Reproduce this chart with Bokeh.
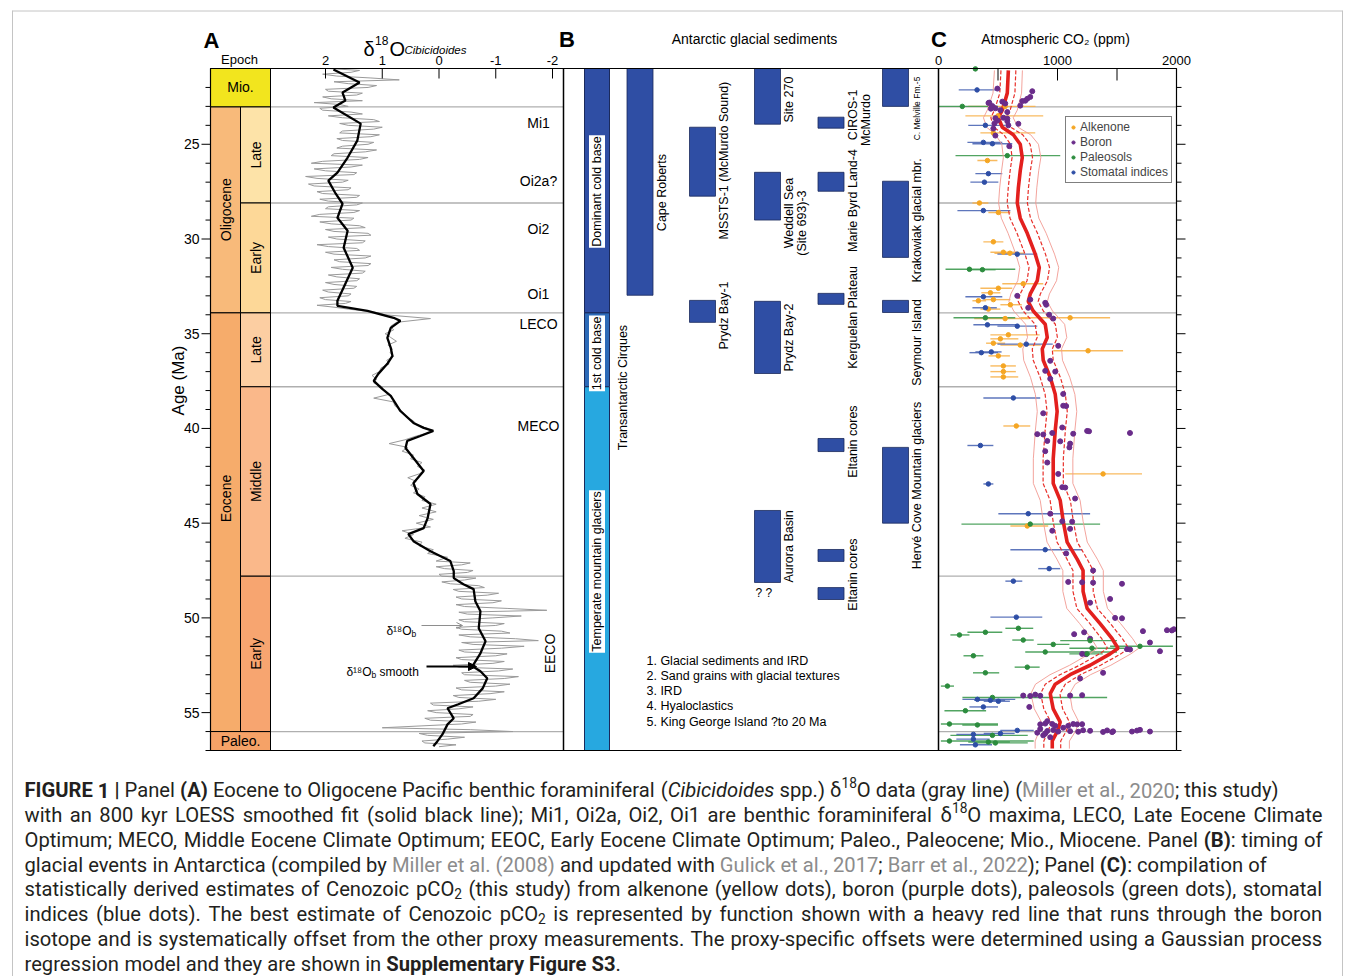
import glob, os, re, struct
import numpy as np
from bokeh.plotting import figure
from bokeh.models import Range1d, Arrow, OpenHead, NormalHead, Legend, LegendItem
from bokeh.core.properties import value
from bokeh.embed import file_html
from bokeh.resources import INLINE

# ====================== DATA ======================
EPOCH_NAME = ["Mio.", "Oligocene", "Eocene", "Paleo."]
EPOCH_TOP = [21.0, 23.03, 33.9, 56.0]
EPOCH_BASE = [23.03, 33.9, 56.0, 57.0]
EPOCH_FULL = [True, False, False, True]
EPOCH_LABEL_AGE = [22.0, 28.45, 43.7, 56.5]
SUB_NAME = ["Late", "Early", "Late", "Middle", "Early"]
SUB_TOP = [23.03, 28.1, 33.9, 37.8, 47.8]
SUB_BASE = [28.1, 33.9, 37.8, 47.8, 56.0]
EPOCH_LINES = [23.03, 28.1, 33.9, 37.8, 47.8, 56.0]

AGE_TICKS = [25, 30, 35, 40, 45, 50, 55]
AGE_TICK_LABELS = ["25", "30", "35", "40", "45", "50", "55"]
AGE_MINOR = [22, 23, 24, 26, 27, 28, 29, 31, 32, 33, 34, 36, 37, 38, 39, 41, 42, 43, 44,
             46, 47, 48, 49, 51, 52, 53, 54, 56, 57]
D18O_TICKS = [2.0, 1.0, 0.0, -1.0, -2.0]
D18O_TICK_LABELS = ["2", "1", "0", "-1", "-2"]
CO2_TICKS = [0, 500, 1000, 1500, 2000]
CO2_TICK_LABELS = ["0", "", "1000", "", "2000"]

gray_age = [
    21.0, 21.2, 21.4, 21.6, 21.8, 22.0, 22.2, 22.4, 22.6, 22.8,
    23.0, 23.2, 23.4, 23.6, 23.8, 24.0, 24.2, 24.4, 24.6, 24.8,
    25.0, 25.2, 25.4, 25.6, 25.8, 26.0, 26.2, 26.4, 26.6, 26.8,
    27.0, 27.2, 27.4, 27.6, 27.8, 28.0, 28.2, 28.4, 28.6, 28.8,
    29.0, 29.2, 29.4, 29.6, 29.8, 30.0, 30.2, 30.4, 30.6, 30.8,
    31.0, 31.2, 31.4, 31.6, 31.8, 32.0, 32.2, 32.4, 32.6, 32.8,
    33.0, 33.2, 33.4, 33.6, 33.8, 34.0, 34.2, 34.4, 34.6, 34.8,
    35.0, 35.2, 35.4, 35.6, 35.8, 36.0, 36.2, 36.4, 36.6, 36.8,
    37.0, 37.2, 37.4, 37.6, 37.8, 38.0, 38.2, 38.4, 38.6, 38.8,
    39.0, 39.2, 39.4, 39.6, 39.8, 40.0, 40.2, 40.4, 40.6, 40.8,
    41.0, 41.2, 41.4, 41.6, 41.8, 42.0, 42.2, 42.4, 42.6, 42.8,
    43.0, 43.2, 43.4, 43.6, 43.8, 44.0, 44.2, 44.4, 44.6, 44.8,
    45.0, 45.2, 45.4, 45.6, 45.8, 46.0, 46.2, 46.4, 46.6, 46.8,
    47.0, 47.2, 47.4, 47.6, 47.8, 48.0, 48.2, 48.4, 48.6, 48.8,
    49.0, 49.2, 49.4, 49.6, 49.8, 50.0, 50.2, 50.4, 50.6, 50.8,
    51.0, 51.2, 51.4, 51.6, 51.8, 52.0, 52.2, 52.4, 52.6, 52.8,
    53.0, 53.2, 53.4, 53.6, 53.8, 54.0, 54.2, 54.4, 54.6, 54.8,
    55.0, 55.2, 55.4, 55.6, 55.8, 56.0, 56.2, 56.4, 56.6, 56.8]
gray_d18o = [
    1.95, 1.55, 1.80, 0.70, 1.60, 1.25, 1.95, 1.45, 1.90, 2.20,
    1.60, 2.05, 1.35, 1.70, 1.05, 1.60, 1.15, 1.75, 1.20, 1.70,
    1.25, 1.80, 1.30, 1.90, 1.40, 2.25, 1.55, 2.00, 1.50, 2.15,
    1.70, 2.20, 1.60, 2.05, 1.45, 1.95, 1.45, 2.00, 1.50, 2.25,
    1.55, 1.90, 1.30, 1.85, 1.20, 1.80, 1.35, 1.95, 1.40, 1.85,
    1.30, 1.75, 1.25, 1.70, 1.35, 1.80, 1.45, 1.85, 1.50, 1.95,
    1.60, 2.00, 1.65, 1.85, 1.30, 0.95, 0.15, 0.75, 0.85, 0.80,
    0.95, 0.85, 0.75, 0.90, 0.82, 0.86, 0.80, 0.92, 0.88, 1.02,
    1.05, 1.18, 1.10, 1.15, 1.00, 0.98, 0.88, 1.15, 0.80, 0.78,
    0.68, 0.62, 0.58, 0.45, 0.40, 0.20, 0.15, 0.40, 0.60, 0.88,
    0.55, 0.65, 0.45, 0.50, 0.30, 0.38, 0.25, 0.35, 0.55, 0.40,
    0.50, 0.35, 0.45, 0.25, 0.30, 0.05, 0.30, 0.05, 0.35, 0.10,
    0.40, 0.15, 0.65, 0.45, 0.60, 0.30, 0.35, 0.10, 0.20, -0.15,
    0.05, -0.40, -0.10, -0.50, -0.05, -0.45, -0.20, -0.80, -0.35, -0.85,
    -0.40, -0.95, -0.45, -1.90, -0.50, -0.95, -0.45, -1.00, -0.40, -1.25,
    -0.55, -1.75, -0.60, -1.10, -0.45, -1.00, -0.40, -0.95, -0.35, -1.05,
    -0.45, -1.15, -0.55, -1.00, -0.40, -0.90, -0.35, -0.70, 0.10, -0.35,
    0.05, -0.55, 0.15, -0.40, 1.00, -1.30, 0.20, -0.15, 0.25, 0.00]
gray_age_extra = [
    21.1, 21.3, 21.5, 21.7, 21.9, 22.1, 22.3, 22.5, 22.7, 22.9,
    23.1, 23.3, 23.5, 23.7, 23.9, 24.1, 24.3, 24.5, 24.7, 24.9,
    25.1, 25.3, 25.5, 25.7, 25.9, 26.1, 26.3, 26.5, 26.7, 26.9,
    27.1, 27.3, 27.5, 27.7, 27.9, 28.1, 28.3, 28.5, 28.7, 28.9,
    29.1, 29.3, 29.5, 29.7, 29.9, 30.1, 30.3, 30.5, 30.7, 30.9,
    31.1, 31.3, 31.5, 31.7, 31.9, 32.1, 32.3, 32.5, 32.7, 32.9,
    33.1, 33.3, 33.5, 33.7, 33.9,
    47.1, 47.3, 47.5, 47.7, 47.9, 48.1, 48.3, 48.5, 48.7, 48.9,
    49.1, 49.3, 49.5, 49.7, 49.9, 50.1, 50.3, 50.5, 50.7, 50.9,
    51.1, 51.3, 51.5, 51.7, 51.9, 52.1, 52.3, 52.5, 52.7, 52.9,
    53.1, 53.3, 53.5, 53.7, 53.9, 54.1, 54.3, 54.5, 54.7, 54.9,
    55.1, 55.3, 55.5, 55.7, 55.9, 56.1, 56.3, 56.5, 56.7]
gray_d18o_extra = [
    1.40, 2.05, 1.20, 1.85, 1.10, 2.00, 1.35, 2.05, 1.35, 1.75,
    2.10, 1.55, 1.95, 1.15, 1.75, 1.00, 1.70, 1.05, 1.80, 1.15,
    1.70, 1.10, 1.85, 1.25, 2.05, 1.35, 2.20, 1.45, 2.35, 1.60,
    2.30, 1.55, 2.15, 1.40, 2.10, 1.35, 1.95, 1.40, 2.10, 1.50,
    2.10, 1.40, 2.00, 1.25, 1.95, 1.30, 2.15, 1.45, 2.00, 1.20,
    1.85, 1.20, 1.90, 1.30, 1.95, 1.40, 2.00, 1.45, 2.05, 1.55,
    2.10, 1.55, 2.15, 1.60, 1.05,
    -0.55, 0.05, -0.60, 0.00, -0.65, -0.05, -0.70, -0.25, -1.05, -0.30,
    -1.10, -0.30, -1.20, -0.35, -1.45, -0.35, -1.15, -0.30, -1.10, -0.35,
    -1.35, -0.40, -1.50, -0.35, -1.20, -0.30, -1.15, -0.25, -1.30, -0.40,
    -1.40, -0.45, -1.25, -0.30, -1.15, -0.25, -1.00, 0.15, -0.60, 0.20,
    -0.60, 0.25, -0.65, 0.30, -0.55, 0.35, -0.45, 0.30, -0.30]

smooth_age = [21.05, 21.74, 22.27, 22.69, 23.06, 23.91, 24.81, 25.70, 26.50, 26.92,
              27.61, 28.14, 28.88, 29.56, 30.46, 31.52, 32.36, 33.26, 33.53, 33.79,
              34.16, 34.32, 34.69, 35.22, 35.75, 36.17, 36.59, 37.12, 37.49, 37.91,
              38.28, 39.08, 39.71, 39.97, 40.13, 40.40, 40.66, 41.03, 41.56, 42.25,
              42.88, 43.46, 43.99, 44.73, 45.26, 45.58, 45.95, 46.48, 47.00, 47.53,
              47.90, 48.22, 48.48, 49.12, 49.65, 50.55, 51.23, 51.87, 52.55, 52.82,
              53.19, 53.72, 54.24, 54.56, 54.77, 55.30, 55.62, 56.15, 56.52, 56.78]
smooth_d18o = [1.86, 1.40, 1.70, 1.65, 1.86, 1.38, 1.44, 1.61, 1.79, 1.95,
               1.82, 1.70, 1.79, 1.61, 1.68, 1.52, 1.65, 1.79, 1.79, 1.26,
               0.80, 0.68, 0.85, 0.91, 0.85, 0.82, 0.91, 1.07, 1.15, 1.00,
               0.85, 0.68, 0.45, 0.27, 0.10, 0.33, 0.56, 0.59, 0.45, 0.27,
               0.45, 0.38, 0.15, 0.20, 0.27, 0.54, 0.45, 0.15, -0.20, -0.26,
               -0.26, -0.43, -0.61, -0.64, -0.73, -0.70, -0.82, -0.73, -0.59, -0.73,
               -0.85, -0.77, -0.61, -0.34, -0.15, -0.26, -0.15, -0.06, 0.03, 0.10]

EVENT_NAME = ["Mi1", "Oi2a?", "Oi2", "Oi1", "LECO", "MECO"]
EVENT_AGE = [23.90, 26.96, 29.45, 32.88, 34.51, 39.85]
EECO_AGE = 51.88

B_COL_NAME = ["Dominant cold base", "1st cold base", "Temperate mountain glaciers"]
B_COL_TOP = [21.0, 33.9, 37.8]
B_COL_BASE = [33.9, 37.8, 57.0]
B_COL_LABEL_AGE = [27.49, 36.04, 47.55]

BAR_SITE = ["Cape Roberts", "MSSTS-1", "Prydz Bay-1", "Site 270", "Weddell Sea", "Prydz Bay-2",
            "Aurora Basin", "CIROS-1", "Marie Byrd Land-4", "Kerguelan Plateau", "Eltanin a",
            "Eltanin b", "Eltanin c", "C. Melville Fm.-5", "Krakowiak", "Seymour Island", "Hervé Cove"]
BAR_TRACK = [1, 2, 2, 3, 3, 3, 3, 4, 4, 4, 4, 4, 4, 5, 5, 5, 5]
BAR_TOP = [21.0, 24.10, 33.24, 21.0, 26.48, 33.29, 44.33, 23.57, 26.48, 32.87, 40.53,
           46.39, 48.40, 21.0, 26.95, 33.24, 41.00]
BAR_BASE = [32.97, 27.74, 34.40, 23.94, 29.00, 37.10, 48.13, 24.15, 27.48, 33.45, 41.22,
            47.02, 49.03, 23.00, 30.97, 33.88, 45.00]

LAB_TEXT = ["Cape Roberts", "MSSTS-1 (McMurdo Sound)", "Prydz Bay-1", "Site 270", "Weddell Sea",
            "(Site 693)-3", "Prydz Bay-2", "Aurora Basin", "CIROS-1", "McMurdo", "Marie Byrd Land-4",
            "Kerguelan Plateau", "Eltanin cores", "Eltanin cores", "Krakowiak glacial mbr.",
            "Seymour Island", "Hervé Cove Mountain glaciers"]
LAB_TRACK = [1, 2, 2, 3, 3, 3, 3, 3, 4, 4, 4, 4, 4, 4, 5, 5, 5]
LAB_LINE = [0, 0, 0, 0, 0, 1, 0, 0, 0, 1, 0, 0, 0, 0, 0, 0, 0]
LAB_AGE = [27.55, 25.86, 34.04, 22.64, 28.63, 29.16, 35.20, 46.23, 23.45, 23.72, 27.97,
           34.14, 40.69, 47.71, 29.02, 35.46, 43.01]
SMALL_LAB_TEXT = ["C. Melville Fm.-5"]
SMALL_LAB_TRACK = [5]
SMALL_LAB_AGE = [23.11]
CIRQUES_TEXT = "Transantarctic Cirques"
CIRQUES_AGE = 37.84
QMARK_AGE = 48.66
B_NOTES = ["1. Glacial sediments and IRD", "2. Sand grains with glacial textures", "3. IRD",
           "4. Hyaloclastics", "5. King George Island ?to 20 Ma"]
B_NOTES_AGE = [52.30, 53.09, 53.88, 54.67, 55.47]

co2_age = [21.1, 22.3, 23.2, 23.6, 24.1, 24.5, 25.0, 25.7, 26.4, 27.3,
           28.1, 28.9, 29.7, 30.8, 31.5, 32.2, 32.9, 33.3, 33.8, 34.5,
           35.2, 35.8, 36.4, 37.3, 38.2, 39.1, 40.1, 41.6, 42.9, 43.8,
           44.9, 46.0, 46.9, 47.5, 48.6, 49.5, 50.3, 51.1, 51.6, 51.9,
           52.5, 53.0, 53.5, 54.0, 54.8, 55.5, 56.0, 56.5, 56.9]
co2_mid = [587, 578, 536, 503, 536, 629, 687, 704, 687, 671,
           662, 687, 746, 813, 847, 830, 771, 754, 796, 897,
           914, 872, 880, 939, 981, 997, 981, 964, 964, 1023,
           1048, 1081, 1165, 1215, 1215, 1249, 1358, 1459, 1509, 1442,
           1274, 1106, 981, 939, 964, 1023, 997, 956, 956]
co2_lo1 = [525, 515, 470, 440, 465, 550, 605, 618, 602, 586,
           577, 601, 660, 727, 761, 744, 686, 670, 711, 812,
           829, 788, 796, 854, 896, 912, 896, 879, 879, 938,
           963, 996, 1080, 1130, 1130, 1163, 1272, 1372, 1420, 1352,
           1186, 1020, 897, 858, 885, 945, 922, 885, 885]
co2_hi1 = [650, 642, 602, 568, 608, 708, 770, 790, 772, 756,
           747, 773, 832, 899, 933, 916, 856, 838, 881, 982,
           999, 956, 964, 1024, 1066, 1082, 1066, 1049, 1049, 1108,
           1133, 1166, 1250, 1300, 1300, 1335, 1444, 1546, 1598, 1532,
           1362, 1192, 1065, 1020, 1043, 1101, 1072, 1027, 1027]
co2_lo2 = [470, 458, 410, 378, 405, 480, 532, 545, 530, 514,
           505, 528, 585, 650, 683, 666, 608, 592, 632, 732,
           748, 708, 716, 773, 814, 830, 814, 797, 797, 855,
           880, 912, 995, 1045, 1045, 1078, 1186, 1286, 1335, 1268,
           1102, 937, 815, 776, 805, 865, 845, 812, 812]
co2_hi2 = [705, 698, 662, 628, 668, 775, 840, 860, 842, 826,
           817, 843, 905, 975, 1010, 992, 932, 915, 958, 1060,
           1078, 1034, 1042, 1103, 1146, 1162, 1146, 1129, 1129, 1190,
           1215, 1250, 1335, 1385, 1385, 1420, 1530, 1632, 1684, 1616,
           1448, 1277, 1148, 1103, 1124, 1180, 1150, 1100, 1100]

alk_age = [23.0, 23.5, 24.4, 25.86, 28.1, 28.6, 30.15, 30.7, 30.75, 32.36,
           32.6, 32.84, 33.2, 33.26, 33.47, 33.7, 34.16, 34.2, 35.06, 35.27,
           35.5, 35.6, 35.9, 36.17, 36.7, 37.0, 37.28, 39.87, 42.4, 45.15]
alk_co2 = [560, 500, 461, 411, 344, 503, 461, 545, 600, 712,
           503, 436, 461, 335, 604, 419, 1106, 560, 587, 520,
           461, 687, 1257, 503, 545, 545, 545, 654, 1383, 746]
alk_lo = [250, 226, 352, 327, 285, 419, 377, 436, 470, 536,
          352, 360, 380, 285, 520, 352, 687, 300, 436, 436,
          400, 520, 964, 420, 436, 436, 436, 545, 1065, 604]
alk_hi = [815, 880, 813, 495, 419, 604, 545, 662, 720, 880,
          620, 520, 604, 400, 700, 520, 1442, 760, 850, 671,
          560, 860, 1551, 600, 650, 650, 670, 771, 1710, 922]

sto_age = [22.13, 24.0, 24.9, 24.97, 26.55, 27.0, 28.5, 30.8, 33.05, 33.63,
           34.53, 34.6, 35.55, 36.0, 35.96, 38.39, 40.9, 42.93, 44.5, 46.4,
           47.4, 48.06, 49.96, 54.3, 54.35, 54.4, 54.7, 55.94, 56.1, 56.15,
           56.4, 56.7]
sto_co2 = [324, 394, 377, 453, 419, 386, 377, 662, 377, 394,
           411, 662, 738, 360, 444, 629, 352, 419, 754, 897,
           930, 629, 654, 327, 436, 503, 377, 662, 520, 293,
           293, 310]
sto_lo = [170, 250, 243, 285, 310, 268, 159, 495, 226, 285,
          293, 495, 495, 260, 310, 377, 243, 377, 503, 604,
          838, 562, 436, 201, 300, 380, 260, 520, 380, 150,
          150, 180]
sto_hi = [492, 560, 536, 620, 536, 503, 604, 830, 536, 490,
          671, 830, 960, 500, 530, 855, 461, 461, 1274, 1207,
          1023, 704, 872, 645, 560, 600, 500, 800, 640, 450,
          430, 450]

pal_age = [21.02, 23.0, 25.6, 31.6, 31.62, 34.16, 45.05, 50.55, 50.76, 50.9,
           51.17, 51.2, 51.4, 51.5, 51.6, 51.8, 51.9, 52.0, 52.6, 52.9,
           53.6, 54.2, 54.9, 55.6, 55.65, 56.2, 56.5, 56.55, 56.6]
pal_co2 = [310, 200, 578, 260, 369, 394, 771, 671, 394, 176,
           712, 1274, 964, 1693, 1290, 897, 1249, 293, 746, 394,
           75, 453, 226, 92, 327, 453, 92, 419, 478]
pal_lo = [310, 0, 143, 59, 250, 126, 193, 562, 243, 100,
          620, 1023, 830, 1442, 1100, 729, 1100, 210, 640, 290,
          20, 201, 50, 20, 200, 100, 20, 250, 300]
pal_hi = [310, 500, 1023, 645, 480, 645, 1358, 796, 536, 260,
          800, 1500, 1100, 1970, 1560, 1500, 1380, 377, 850, 510,
          130, 1417, 400, 500, 500, 750, 800, 600, 750]

bor_age = [22.06, 22.2, 22.5, 22.6, 22.7, 22.72, 22.96, 22.75, 22.8, 22.98,
           23.1, 23.2, 22.85, 23.3, 23.6, 23.75, 23.9, 23.64, 24.17, 24.0,
           24.54, 25.1, 22.82, 23.12, 23.62, 23.78, 23.92,
           33.0, 33.2, 33.37, 33.47, 33.63, 34.0, 34.2, 35.64, 36.43, 36.96, 37.0, 37.38, 38.18,
           38.8, 38.82, 39.2, 39.95, 40.3, 40.32, 40.24, 40.28, 40.13, 40.15,
           40.24, 40.66, 40.68, 40.8, 41.2, 41.0, 41.8, 42.4, 43.1, 43.12,
           43.7, 44.5, 44.9, 44.92, 45.4, 45.3, 46.6, 47.5, 48.1, 48.12,
           48.14, 48.2, 49.0, 49.2, 50.0, 50.02, 50.7, 50.65, 50.66, 50.6,
           50.76, 50.86, 51.1, 51.65, 51.67, 51.3, 51.76, 51.9, 51.92, 52.9, 53.2,
           54.1, 54.12, 54.05, 54.11, 54.1, 54.08, 54.7,
           55.58, 55.6, 55.7, 55.86, 55.97, 55.92, 56.0, 55.8, 55.7, 55.6,
           55.62, 55.61, 55.98, 56.01, 55.93, 55.96, 56.02, 55.94, 56.03, 55.99,
           56.0, 55.95, 55.91, 56.0, 56.06, 56.2, 56.3, 56.1, 55.62, 55.45]
bor_co2 = [495, 788, 771, 746, 729, 704, 687, 536, 427, 452,
           478, 520, 561, 578, 545, 495, 470, 578, 461, 587,
           478, 595, 420, 440, 478, 578, 671,
           662, 771, 897, 905, 754, 930, 964, 1006, 939, 897, 981, 939, 1048,
           1048, 1073, 880, 1040, 830, 880, 956, 1132, 1249, 1265,
           1609, 914, 1023, 1106, 897, 1100, 914, 1006, 1040, 1065,
           1148, 939, 1040, 1123, 956, 1106, 1073, 1299, 1090, 1207,
           1299, 1542, 1442, 1274, 1484, 1542, 1718, 1920, 1961, 1978,
           1224, 1140, 1274, 1584, 1610, 1777, 1861, 1207, 1240, 1383, 1190,
           712, 771, 813, 855, 1106, 1207, 763,
           897, 956, 981, 855, 914, 964, 1006, 1048, 1090, 1132,
           1165, 1207, 1106, 1174, 1215, 1274, 1383, 1417, 1459, 1467,
           1626, 1668, 1693, 1777, 830, 880, 939, 897, 855, 914]

PROXY_NAMES = ["Alkenone", "Boron", "Paleosols", "Stomatal indices"]

CAPTION = [
    [("FIGURE 1 |", "b"), (" Panel ", "r"), ("(A)", "b"),
     (" Eocene to Oligocene Pacific benthic foraminiferal (", "r"), ("Cibicidoides", "i"),
     (" spp.) δ", "r"), ("18", "sup"), ("O data (gray line) (", "r"), ("Miller et al., 2020", "g"),
     ("; this study)", "r")],
    [("with an 800 kyr LOESS smoothed fit (solid black line); Mi1, Oi2a, Oi2, Oi1 are benthic foraminiferal δ", "r"),
     ("18", "sup"), ("O maxima, LECO, Late Eocene Climate", "r")],
    [("Optimum; MECO, Middle Eocene Climate Optimum; EEOC, Early Eocene Climate Optimum; Paleo., Paleocene; Mio., Miocene. Panel ", "r"),
     ("(B)", "b"), (": timing of", "r")],
    [("glacial events in Antarctica (compiled by ", "r"), ("Miller et al. (2008)", "g"),
     (" and updated with ", "r"), ("Gulick et al., 2017", "g"), ("; ", "r"), ("Barr et al., 2022", "g"),
     ("); Panel ", "r"), ("(C)", "b"), (": compilation of", "r")],
    [("statistically derived estimates of Cenozoic pCO", "r"), ("2", "sub"),
     (" (this study) from alkenone (yellow dots), boron (purple dots), paleosols (green dots), stomatal", "r")],
    [("indices (blue dots). The best estimate of Cenozoic pCO", "r"), ("2", "sub"),
     (" is represented by function shown with a heavy red line that runs through the boron", "r")],
    [("isotope and is systematically offset from the other proxy measurements. The proxy-specific offsets were determined using a Gaussian process", "r")],
    [("regression model and they are shown in ", "r"), ("Supplementary Figure S3", "b"), (".", "r")],
]
CAPTION_JUSTIFY = [False, True, True, False, True, True, True, False]

# ====================== LAYOUT / STYLE ======================
FONT = "Liberation Sans"
CAP_FONT = "Roboto"
W, H = 1354, 976
FL, FR, FT, FB = 210, 1176, 68, 750
AGE_TOP, AGE_BOT = 21.0, 57.0
EPW = 60
A_RIGHT = 563
C_LEFT = 938
D18_PX_PER_UNIT = 56.75
D18_TWO_PX = 325
CO2_MAX = 2000.0

TRACK_X = [33.5, 76.5, 139.0, 204.0, 267.5, 332.0]
BAR_W = 26
LABEL_DX = 21.5
LINE_DX = 13
CIRQUES_DX = 25.5

EPOCH_FILL = ["#F2E51E", "#F8BA7A", "#F6AC6B", "#F5A267"]
SUB_FILL = ["#FDE3A8", "#FDD898", "#FCCEA2", "#FAB88A", "#F7A570"]
B_COL_FILL = ["#2F4EA4", "#2C6AB8", "#27A8E0"]
BAR_FILL = "#2F4EA4"
ALK_C, BOR_C, PAL_C, STO_C = "#F5A623", "#6A2C8A", "#2C8C3E", "#2E4EA6"
ALK_BAR, PAL_BAR, STO_BAR = "#F7B24E", "#3E9A50", "#4C67B5"
RED = "#E3201E"


def d18_at(px):
    return 2.0 - (px - D18_TWO_PX) / D18_PX_PER_UNIT


def co2_at(px):
    return (px - C_LEFT) * CO2_MAX / (FR - C_LEFT)


def ep_at(px):
    return (px - FL) / EPW


def bx(px):
    return px - A_RIGHT


def age_at(py):
    return AGE_TOP + (py - FT) * (AGE_BOT - AGE_TOP) / (FB - FT)


p = figure(width=W, height=H, x_range=Range1d(d18_at(0), d18_at(W)),
           y_range=Range1d(age_at(H), age_at(0)), output_backend="svg", toolbar_location=None,
           x_axis_location=None, y_axis_location=None, min_border=0,
           outline_line_color=None, background_fill_color="white", border_fill_color="white")
p.extra_x_ranges = {
    "co2": Range1d(co2_at(0), co2_at(W)),
    "ep": Range1d(ep_at(0), ep_at(W)),
    "b": Range1d(bx(0), bx(W)),
    "px": Range1d(0, W),
}
p.extra_y_ranges = {"py": Range1d(H, 0)}
p.xgrid.visible = False
p.ygrid.visible = False


def ptext(texts, xs, ys, size, style="normal", align="center", baseline="middle", angle=0.0,
          color="black", font=FONT, xr="px", yr="py", **kw):
    p.text(x=xs, y=ys, text=texts, text_font=value(font), text_font_size=f"{size}px",
           text_font_style=style, text_align=align, text_baseline=baseline, angle=angle,
           text_color=color, x_range_name=xr, y_range_name=yr, **kw)


# ---- page frame border ----
p.segment(x0=[12, 12, 1342], x1=[1342, 12, 1342], y0=[10.5, 10, 10], y1=[10.5, 976, 976],
          line_color="#C4C4C4", line_width=1, x_range_name="px", y_range_name="py")

# ---- Panel A ----
n_el = len(EPOCH_LINES)
p.segment(x0=[1.0] * n_el, x1=[ep_at(A_RIGHT)] * n_el, y0=EPOCH_LINES, y1=EPOCH_LINES,
          line_color="#AFAFAF", line_width=1.3, x_range_name="ep")
p.segment(x0=[0] * n_el, x1=[CO2_MAX] * n_el, y0=EPOCH_LINES, y1=EPOCH_LINES,
          line_color="#AFAFAF", line_width=1.3, x_range_name="co2")

p.quad(left=[0] * 4, right=[1.0 if f else 0.5 for f in EPOCH_FULL], top=EPOCH_TOP,
       bottom=EPOCH_BASE, fill_color=EPOCH_FILL, line_color="black", line_width=1,
       x_range_name="ep")
p.quad(left=[0.5] * 5, right=[1.0] * 5, top=SUB_TOP, bottom=SUB_BASE, fill_color=SUB_FILL,
       line_color="black", line_width=1, x_range_name="ep")
ptext(EPOCH_NAME, [0.5 if f else 0.25 for f in EPOCH_FULL], EPOCH_LABEL_AGE, 14,
      angle=[0 if f else np.pi / 2 for f in EPOCH_FULL], xr="ep", yr="default")
ptext(SUB_NAME, [0.75] * 5, [(a + b) / 2 for a, b in zip(SUB_TOP, SUB_BASE)], 14,
      angle=np.pi / 2, xr="ep", yr="default")

g_order = np.argsort(np.array(gray_age + gray_age_extra), kind="stable")
g_age = np.array(gray_age + gray_age_extra)[g_order]
g_val = np.array(gray_d18o + gray_d18o_extra)[g_order]
p.line(g_val, g_age, line_color="#9A9A9A", line_width=1.0)
p.line(smooth_d18o, smooth_age, line_color="black", line_width=2.3)

ptext(EVENT_NAME, [d18_at(538)] * len(EVENT_NAME), EVENT_AGE, 14, xr="default", yr="default")
ptext(["EECO"], [d18_at(549)], [EECO_AGE], 14, angle=np.pi / 2, xr="default", yr="default")

p.add_layout(Arrow(end=OpenHead(size=6, line_color="#8E8E8E", line_width=1),
                   x_start=d18_at(421), y_start=age_at(625), x_end=d18_at(462), y_end=age_at(625),
                   line_color="#8E8E8E", line_width=1))
p.add_layout(Arrow(end=NormalHead(size=8, fill_color="black", line_color="black"),
                   x_start=d18_at(426), y_start=age_at(666), x_end=d18_at(476), y_end=age_at(666),
                   line_color="black", line_width=1.8))
ptext(["δ¹⁸O", "δ¹⁸O"], [411, 371], [630, 671], 12, align="right", baseline="alphabetic")
ptext(["b", "b"], [411, 371], [633, 674], 8.5, align="left", baseline="alphabetic")
ptext(["smooth"], [379], [671], 12, align="left", baseline="alphabetic")

# ---- Panel B ----
p.quad(left=[TRACK_X[0] - 12.5] * 3, right=[TRACK_X[0] + 12.5] * 3, top=B_COL_TOP,
       bottom=B_COL_BASE, fill_color=B_COL_FILL, line_color="#1B2A5C", line_width=1,
       x_range_name="b")
ptext(B_COL_NAME, [TRACK_X[0]] * 3, B_COL_LABEL_AGE, 12.5, angle=np.pi / 2, xr="b",
      yr="default", background_fill_color="white", padding=1)
p.quad(left=[TRACK_X[t] - BAR_W / 2 for t in BAR_TRACK],
       right=[TRACK_X[t] + BAR_W / 2 for t in BAR_TRACK], top=BAR_TOP, bottom=BAR_BASE,
       fill_color=BAR_FILL, line_color="#1B2A5C", line_width=0.8, x_range_name="b")
ptext(LAB_TEXT, [TRACK_X[t] + LABEL_DX + LINE_DX * ln for t, ln in zip(LAB_TRACK, LAB_LINE)],
      LAB_AGE, 12.5, angle=np.pi / 2, xr="b", yr="default")
ptext(SMALL_LAB_TEXT, [TRACK_X[t] + LABEL_DX for t in SMALL_LAB_TRACK], SMALL_LAB_AGE, 8.5,
      angle=np.pi / 2, xr="b", yr="default")
ptext([CIRQUES_TEXT], [TRACK_X[0] + CIRQUES_DX], [CIRQUES_AGE], 12.5, angle=np.pi / 2,
      xr="b", yr="default")
ptext(["?  ?"], [TRACK_X[3] - 2], [QMARK_AGE], 12, xr="b", yr="default")
ptext(B_NOTES, [bx(646)] * len(B_NOTES), B_NOTES_AGE, 12.5, align="left", xr="b", yr="default")

# ---- Panel C ----
for ages, lo, hi, col in [(alk_age, alk_lo, alk_hi, ALK_BAR), (pal_age, pal_lo, pal_hi, PAL_BAR),
                          (sto_age, sto_lo, sto_hi, STO_BAR)]:
    p.segment(x0=lo, x1=hi, y0=ages, y1=ages, line_color=col, line_width=1.4, line_alpha=0.9,
              x_range_name="co2")
for xs, dash, lw, col in [(co2_lo2, "solid", 0.9, "#F29A92"), (co2_hi2, "solid", 0.9, "#F29A92"),
                          (co2_lo1, "4 2", 1.2, "#E8302A"), (co2_hi1, "4 2", 1.2, "#E8302A")]:
    p.line(xs, co2_age, line_color=col, line_width=lw, line_dash=dash, x_range_name="co2")
p.line(co2_mid, co2_age, line_color=RED, line_width=3.6, x_range_name="co2")

r_alk = p.scatter(alk_co2, alk_age, size=4.5, color=ALK_C, x_range_name="co2")
r_bor = p.scatter(bor_co2, bor_age, size=5, color=BOR_C, x_range_name="co2")
r_pal = p.scatter(pal_co2, pal_age, size=4.5, color=PAL_C, x_range_name="co2")
r_sto = p.scatter(sto_co2, sto_age, size=4.5, color=STO_C, x_range_name="co2")

legend = Legend(items=[LegendItem(label=n, renderers=[r]) for n, r in
                       zip(PROXY_NAMES, [r_alk, r_bor, r_pal, r_sto])],
                location=(1065, H - 183), orientation="vertical",
                label_text_font=FONT, label_text_font_size="12px", label_height=14,
                glyph_height=14, glyph_width=8, label_standoff=3, padding=3, spacing=1,
                margin=0, border_line_color="black", border_line_width=1,
                background_fill_color="white", background_fill_alpha=1)
p.add_layout(legend)

# ---- axes box, dividers ----
p.quad(left=[FL], right=[FR], top=[FT], bottom=[FB], fill_color=None, line_color="black",
       line_width=1.2, x_range_name="px", y_range_name="py")
p.segment(x0=[1.0], x1=[1.0], y0=[AGE_TOP], y1=[AGE_BOT], line_color="black", line_width=1,
          x_range_name="ep")
p.segment(x0=[0, bx(C_LEFT)], x1=[0, bx(C_LEFT)], y0=[AGE_TOP] * 2, y1=[AGE_BOT] * 2,
          line_color="black", line_width=1.5, x_range_name="b")

nt, nm = len(AGE_TICKS), len(AGE_MINOR)
p.segment(x0=[ep_at(FL - 9)] * nt, x1=[0] * nt, y0=AGE_TICKS, y1=AGE_TICKS, line_color="black",
          line_width=1, x_range_name="ep")
p.segment(x0=[ep_at(FL - 5)] * nm, x1=[0] * nm, y0=AGE_MINOR, y1=AGE_MINOR, line_color="black",
          line_width=1, x_range_name="ep")
ptext(AGE_TICK_LABELS, [ep_at(FL - 11)] * nt, AGE_TICKS, 14, align="right", xr="ep",
      yr="default")
ptext(["Age (Ma)"], [178], [380], 17, angle=np.pi / 2)

p.segment(x0=[CO2_MAX] * nt, x1=[co2_at(FR + 9)] * nt, y0=AGE_TICKS, y1=AGE_TICKS,
          line_color="black", line_width=1, x_range_name="co2")
p.segment(x0=[CO2_MAX] * nm, x1=[co2_at(FR + 5)] * nm, y0=AGE_MINOR, y1=AGE_MINOR,
          line_color="black", line_width=1, x_range_name="co2")

nd = len(D18O_TICKS)
p.segment(x0=D18O_TICKS, x1=D18O_TICKS, y0=[AGE_TOP] * nd, y1=[age_at(FT + 10)] * nd,
          line_color="black", line_width=1)
ptext(D18O_TICK_LABELS, D18O_TICKS, [age_at(60)] * nd, 13, xr="default", yr="default")
nc = len(CO2_TICKS)
p.segment(x0=CO2_TICKS, x1=CO2_TICKS, y0=[AGE_TOP] * nc, y1=[age_at(FT + 12)] * nc,
          line_color="black", line_width=1, x_range_name="co2")
ptext([s for s in CO2_TICK_LABELS if s], [c for c, s in zip(CO2_TICKS, CO2_TICK_LABELS) if s],
      [age_at(60)] * sum(1 for s in CO2_TICK_LABELS if s), 13, xr="co2", yr="default")

# ---- headers ----
ptext(["A"], [211], [39.5], 22, style="bold")
ptext(["δ"], [363], [48], 20, align="left", baseline="alphabetic")
ptext(["18"], [374.5], [40], 12, align="left", baseline="alphabetic")
ptext(["O"], [389], [48], 20, align="left", baseline="alphabetic")
ptext(["Cibicidoides"], [404], [49.5], 11.5, style="italic", align="left", baseline="alphabetic")
ptext(["Epoch"], [239], [58.5], 13)
ptext(["B"], [566.5], [38.5], 22, style="bold")
ptext(["Antarctic glacial sediments"], [754], [38.5], 14)
ptext(["C"], [938.5], [38.5], 22, style="bold")
ptext(["Atmospheric CO₂ (ppm)"], [1055], [38.5], 14)


# ====================== CAPTION ======================
def _find_font(names):
    dirs = ["/usr/share/fonts", "/usr/local/share/fonts", os.path.expanduser("~/.fonts"),
            os.path.expanduser("~/.local/share/fonts")]
    for n in names:
        for d in dirs:
            hits = glob.glob(os.path.join(d, "**", glob.escape(n)), recursive=True)
            if hits:
                return sorted(hits)[0]
    return None


class FontMetrics:
    def __init__(self, path):
        self.ok = False
        self.cache = {}
        if not path:
            return
        try:
            d = open(path, "rb").read()
            off0 = struct.unpack(">I", d[12:16])[0] if d[:4] == b"ttcf" else 0
            num = struct.unpack(">H", d[off0 + 4:off0 + 6])[0]
            tables = {}
            for i in range(num):
                rec = off0 + 12 + 16 * i
                tag = d[rec:rec + 4].decode("latin1")
                tables[tag] = struct.unpack(">I", d[rec + 8:rec + 12])[0]
            head = tables["head"]
            self.upem = struct.unpack(">H", d[head + 18:head + 20])[0]
            hhea = tables["hhea"]
            nhm = struct.unpack(">H", d[hhea + 34:hhea + 36])[0]
            hm = tables["hmtx"]
            self.adv = [struct.unpack(">H", d[hm + 4 * i:hm + 4 * i + 2])[0] for i in range(nhm)]
            cm = tables["cmap"]
            n = struct.unpack(">H", d[cm + 2:cm + 4])[0]
            self.sub4 = self.sub12 = None
            for i in range(n):
                pid, eid, so = struct.unpack(">HHI", d[cm + 4 + 8 * i:cm + 12 + 8 * i])
                fmt = struct.unpack(">H", d[cm + so:cm + so + 2])[0]
                if fmt == 4 and self.sub4 is None:
                    self.sub4 = cm + so
                if fmt == 12:
                    self.sub12 = cm + so
            self.d = d
            self.ok = True
        except Exception:
            self.ok = False

    def gid(self, c):
        d = self.d
        if self.sub12 is not None:
            o = self.sub12
            ng = struct.unpack(">I", d[o + 12:o + 16])[0]
            for i in range(ng):
                s, e, g = struct.unpack(">III", d[o + 16 + 12 * i:o + 28 + 12 * i])
                if s <= c <= e:
                    return g + c - s
            return 0
        o = self.sub4
        if o is None:
            return 0
        segx2 = struct.unpack(">H", d[o + 6:o + 8])[0]
        ends = o + 14
        starts = ends + segx2 + 2
        deltas = starts + segx2
        roffs = deltas + segx2
        for i in range(segx2 // 2):
            e = struct.unpack(">H", d[ends + 2 * i:ends + 2 * i + 2])[0]
            if c <= e:
                s = struct.unpack(">H", d[starts + 2 * i:starts + 2 * i + 2])[0]
                if c < s:
                    return 0
                delta = struct.unpack(">h", d[deltas + 2 * i:deltas + 2 * i + 2])[0]
                ro = struct.unpack(">H", d[roffs + 2 * i:roffs + 2 * i + 2])[0]
                if ro == 0:
                    return (c + delta) & 0xFFFF
                addr = roffs + 2 * i + ro + 2 * (c - s)
                g = struct.unpack(">H", d[addr:addr + 2])[0]
                return (g + delta) & 0xFFFF if g else 0
        return 0

    def em_width(self, text):
        tot = 0.0
        for ch in text:
            if ch not in self.cache:
                g = self.gid(ord(ch))
                if g == 0:
                    self.cache[ch] = 0.55
                else:
                    self.cache[ch] = self.adv[min(g, len(self.adv) - 1)] / self.upem
            tot += self.cache[ch]
        return tot


def approx_em(text):
    w = 0.0
    for ch in text:
        if ch == " ":
            w += 0.25
        elif ch in "il.,;:'|!":
            w += 0.24
        elif ch in "fjrt()[]":
            w += 0.33
        elif ch in "mwMW":
            w += 0.85
        elif ch.isupper():
            w += 0.64
        elif ch.isdigit():
            w += 0.56
        else:
            w += 0.53
    return w


FM_REG = FontMetrics(_find_font(["Roboto-Regular.ttf", "Roboto-Regular.otf", "Roboto[wdth,wght].ttf",
                                 "Roboto-VariableFont_wdth,wght.ttf", "Roboto[wght].ttf"]))
FM_BOLD = FontMetrics(_find_font(["Roboto-Bold.ttf", "Roboto-Bold.otf"]))
FM_ITAL = FontMetrics(_find_font(["Roboto-Italic.ttf", "Roboto-Italic.otf"]))


def em_width(text, style):
    if style == "b":
        if FM_BOLD.ok:
            return FM_BOLD.em_width(text)
        base = FM_REG.em_width(text) if FM_REG.ok else approx_em(text)
        return base * 1.045
    if style == "i" and FM_ITAL.ok:
        return FM_ITAL.em_width(text)
    return FM_REG.em_width(text) if FM_REG.ok else approx_em(text)


CAP_X0, CAP_X1 = 24, 1322
LINE1_END = 1278
CAP_BASE0, CAP_LEAD = 789.5, 24.85
SUB_SCALE = 0.68


def piece_size(style, S):
    return S * SUB_SCALE if style in ("sup", "sub") else S


def tokens(runs):
    out = []
    for text, st in runs:
        for part in re.split(r"( +)", text):
            if part:
                out.append((part, st, part.startswith(" ")))
    return out


def natural(runs, S):
    return sum(em_width(t, st) * piece_size(st, S) for t, st, sp in tokens(runs))


S_BASE = min(20.5, (LINE1_END - CAP_X0) / natural(CAPTION[0], 1.0))

pieces = {}
for li, (runs, just) in enumerate(zip(CAPTION, CAPTION_JUSTIFY)):
    S = S_BASE
    nat1 = natural(runs, 1.0)
    if nat1 * S > (CAP_X1 - CAP_X0) * 0.997:
        S = (CAP_X1 - CAP_X0) * 0.997 / nat1
    toks = tokens(runs)
    widths = [em_width(t, st) * piece_size(st, S) for t, st, sp in toks]
    nsp = sum(1 for t in toks if t[2])
    extra = (CAP_X1 - CAP_X0 - sum(widths)) / nsp if (just and nsp) else 0.0
    x = CAP_X0
    base = CAP_BASE0 + li * CAP_LEAD
    for (t, st, sp), w in zip(toks, widths):
        if sp:
            x += w + extra
            continue
        dy = -0.38 * S if st == "sup" else (0.22 * S if st == "sub" else 0.0)
        key = (st, round(piece_size(st, S), 2))
        dd = pieces.setdefault(key, {"x": [], "y": [], "t": []})
        dd["x"].append(x)
        dd["y"].append(base + dy)
        dd["t"].append(t)
        x += w

CAP_STYLE = {"r": ("normal", "#231F20"), "b": ("bold", "#231F20"), "i": ("italic", "#231F20"),
             "g": ("normal", "#8C8C8C"), "sup": ("normal", "#231F20"), "sub": ("normal", "#231F20")}
for (st, size), dd in pieces.items():
    fs, col = CAP_STYLE[st]
    ptext(dd["t"], dd["x"], dd["y"], size, style=fs, align="left", baseline="alphabetic",
          color=col, font=CAP_FONT)

open("out.html", "w").write(file_html(p, INLINE))
